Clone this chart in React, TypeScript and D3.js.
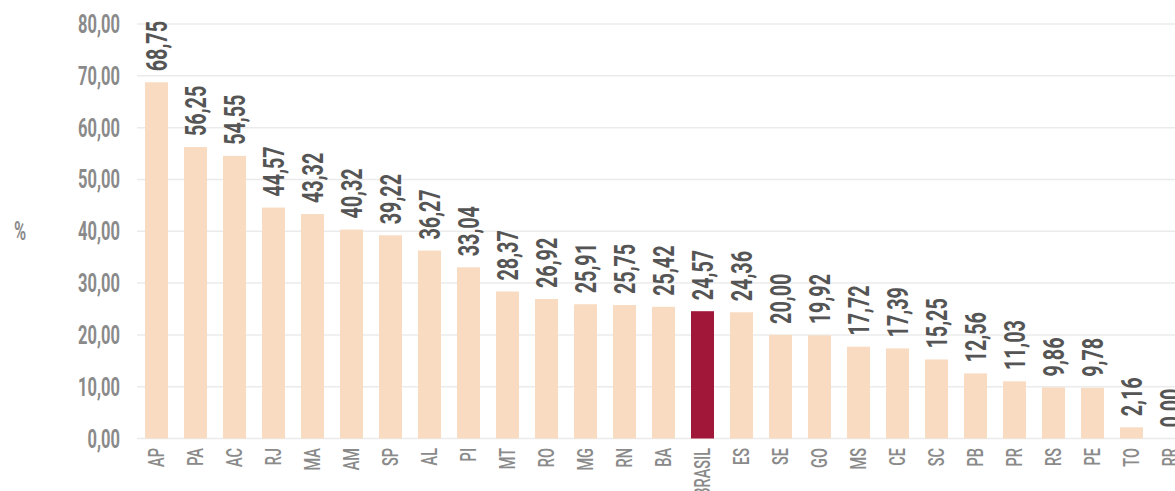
import React from 'react';
import * as d3 from 'd3';

const categories = ['AP', 'PA', 'AC', 'RJ', 'MA', 'AM', 'SP', 'AL', 'PI', 'MT', 'RO', 'MG', 'RN', 'BA', 'BRASIL', 'ES', 'SE', 'GO', 'MS', 'CE', 'SC', 'PB', 'PR', 'RS', 'PE', 'TO', 'RR'];
const values = [68.75, 56.25, 54.55, 44.57, 43.32, 40.32, 39.22, 36.27, 33.04, 28.37, 26.92, 25.91, 25.75, 25.42, 24.57, 24.36, 20.0, 19.92, 17.72, 17.39, 15.25, 12.56, 11.03, 9.86, 9.78, 2.16, 0.0];
const yTicks = [0, 10, 20, 30, 40, 50, 60, 70, 80];
const highlight = 'BRASIL';

const width = 1175;
const height = 491;
const FONT = 'Roboto, sans-serif';
const SX = 0.66;

const locale = d3.formatLocale({ decimal: ',', thousands: '.', grouping: [3], currency: ['R$', ''] });
const fmt = locale.format('.2f');

export default function App() {
  const x = d3.scaleBand<string>()
    .domain(categories)
    .range([137, 1190])
    .paddingInner(0.41)
    .paddingOuter(0.205);

  const y = d3.scaleLinear()
    .domain([0, 80])
    .range([438.5, 24]);

  return (
    <svg width={width} height={height} style={{ position: 'absolute', left: 0, top: 0, background: '#fff' }}>
      {/* grid */}
      <g>
        {yTicks.map(t => (
          <line key={t} x1={137} x2={width} y1={y(t)} y2={y(t)} stroke="#ebebeb" strokeWidth={1.5} />
        ))}
      </g>
      {/* y tick labels */}
      <g fill="#8a8a8a" fontFamily={FONT} fontWeight={700} fontSize={25}>
        {yTicks.map(t => (
          <text key={t} transform={`translate(120,${y(t)}) scale(${SX},1)`} textAnchor="end" dy="0.36em">
            {fmt(t)}
          </text>
        ))}
      </g>
      <text transform={`translate(20,${y(40)}) scale(${SX},1)`} textAnchor="middle" dy="0.36em"
        fill="#8a8a8a" fontFamily={FONT} fontWeight={700} fontSize={25}>%</text>
      {/* bars */}
      <g>
        {categories.map((c, i) => (
          <rect key={c} x={x(c)} y={y(values[i])} width={x.bandwidth()} height={y(0) - y(values[i])}
            fill={c === highlight ? '#a1173a' : '#f8dbc1'} />
        ))}
      </g>
      {/* value labels */}
      <g fill="#555" fontFamily={FONT} fontWeight={700} fontSize={30}>
        {categories.map((c, i) => (
          <text key={c}
            transform={`translate(${(x(c) ?? 0) + x.bandwidth() / 2},${y(values[i]) - 11}) rotate(-90) scale(${SX},1)`}
            dy="0.36em">
            {fmt(values[i])}
          </text>
        ))}
      </g>
      {/* category labels */}
      <g fill="#8a8a8a" fontFamily={FONT} fontWeight={500} fontSize={22}>
        {categories.map(c => (
          <text key={c}
            transform={`translate(${(x(c) ?? 0) + x.bandwidth() / 2},448) rotate(-90) scale(${SX},1)`}
            textAnchor="end" dy="0.36em">
            {c}
          </text>
        ))}
      </g>
    </svg>
  );
}
